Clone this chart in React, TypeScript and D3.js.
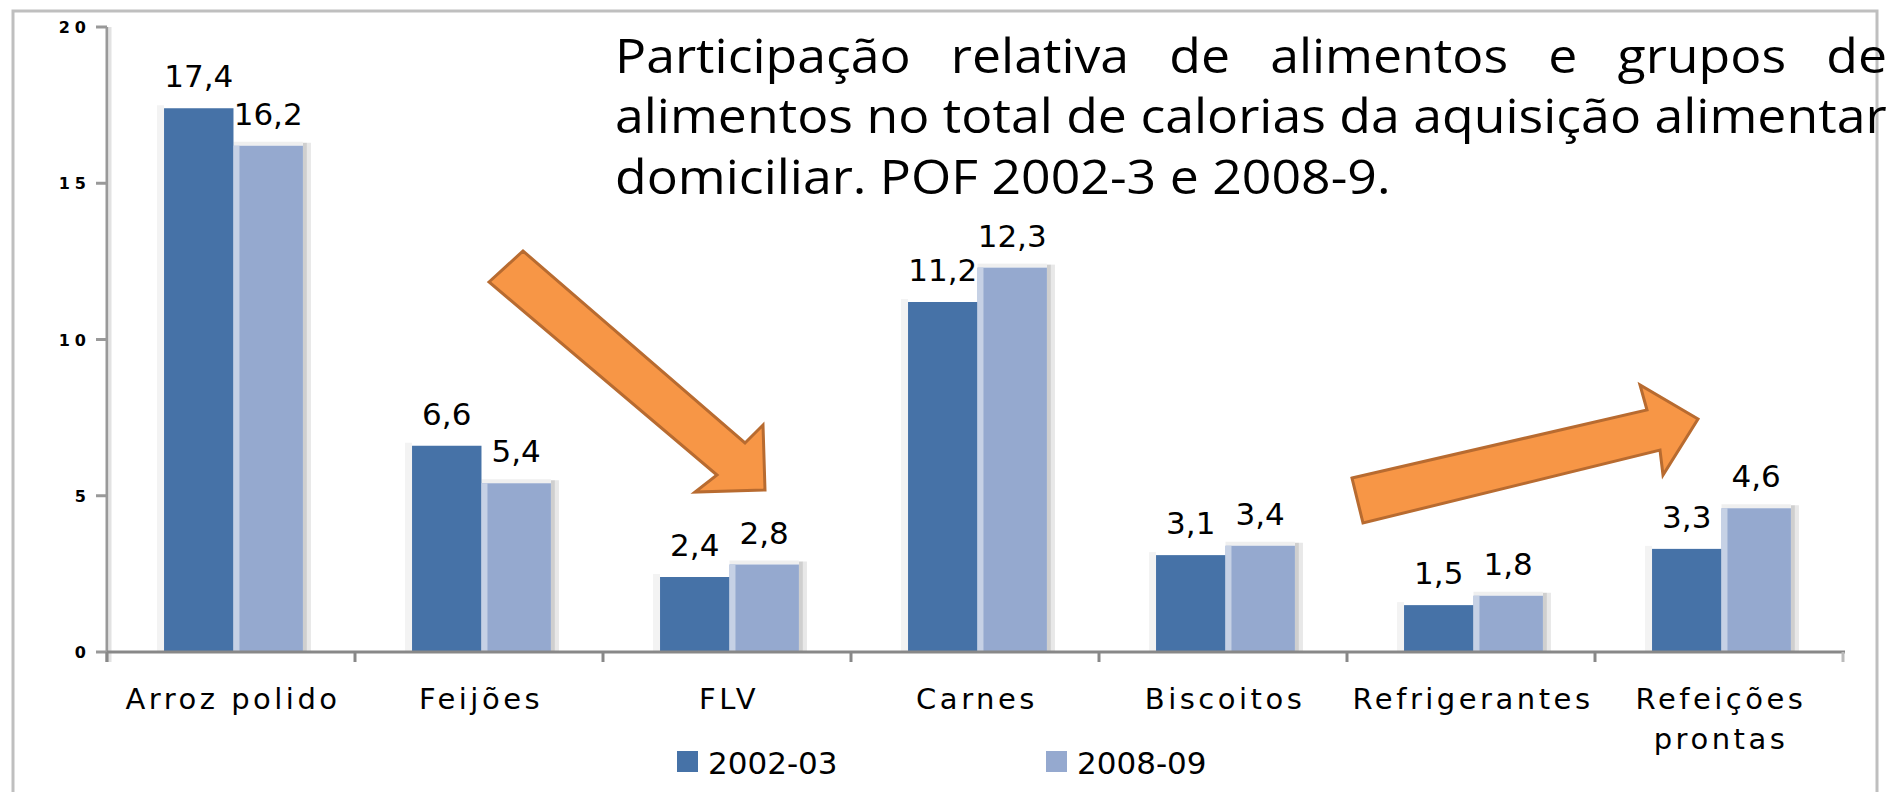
import React, { useEffect, useRef } from 'react';
import * as d3 from 'd3';

const categories = ['Arroz polido', 'Feijões', 'FLV', 'Carnes', 'Biscoitos', 'Refrigerantes', 'Refeições prontas'];
const categoryLines = [['Arroz polido'], ['Feijões'], ['FLV'], ['Carnes'], ['Biscoitos'], ['Refrigerantes'], ['Refeições', 'prontas']];
const series = ['2002-03', '2008-09'];
const values2002 = [17.4, 6.6, 2.4, 11.2, 3.1, 1.5, 3.3];
const values2008 = [16.2, 5.4, 2.8, 12.3, 3.4, 1.8, 4.6];
const yTicks = [0, 5, 10, 15, 20];
const titleLines = [
  'Participação relativa de alimentos e grupos de',
  'alimentos no total de calorias da aquisição alimentar',
  'domiciliar. POF 2002-3 e 2008-9.',
];
const seriesColors = ['#4672A7', '#95A9CF'];

const W = 1897;
const H = 792;

export default function App() {
  const ref = useRef<SVGSVGElement | null>(null);

  useEffect(() => {
    document.body.style.margin = '0';
    const svg = d3.select(ref.current);
    svg.selectAll('*').remove();

    const left = 107, right = 1843, bottom = 652, top = 27;
    const y = d3.scaleLinear().domain([0, 20]).range([bottom, top]);
    const x0 = d3.scaleBand<string>().domain(categories).range([left, right]).padding(0);
    const bw = x0.bandwidth();
    const x1 = d3.scaleBand<string>().domain(series).range([0.23 * bw, 0.79 * bw]).padding(0);
    const w = x1.bandwidth();
    const loc = d3.formatLocale({ decimal: ',', thousands: '.', grouping: [3], currency: ['R$', ''] });
    const fmt = loc.format('.1f');

    svg.append('rect').attr('width', W).attr('height', H).attr('fill', '#fff');
    // frame
    svg.append('rect').attr('x', 13).attr('y', 11).attr('width', 1864).attr('height', 820)
      .attr('fill', 'none').attr('stroke', '#BFBFBF').attr('stroke-width', 3);

    const data = categories.map((c, i) => ({ c, i, v: [values2002[i], values2008[i]] }));

    const g = svg.append('g');
    data.forEach((d) => {
      const gx = x0(d.c)!;
      const xa = gx + x1(series[0])!;
      const xb = gx + x1(series[1])!;
      // soft glow left of dark bar
      g.append('rect').attr('x', xa - 7).attr('y', y(d.v[0]) - 3).attr('width', 7).attr('height', bottom - y(d.v[0]) + 3).attr('fill', '#F3F3F3');
      // shadow right of light bar
      g.append('rect').attr('x', xb + w).attr('y', y(d.v[1]) - 3).attr('width', 4).attr('height', bottom - y(d.v[1]) + 3).attr('fill', '#CFCFCF');
      g.append('rect').attr('x', xb + w + 4).attr('y', y(d.v[1]) - 3).attr('width', 4).attr('height', bottom - y(d.v[1]) + 3).attr('fill', '#E8E8E8');
      g.append('rect').attr('x', xb).attr('y', y(d.v[1]) - 4).attr('width', w).attr('height', 4).attr('fill', '#EFEFEF');
      // bars
      g.append('rect').attr('x', xa).attr('y', y(d.v[0])).attr('width', w).attr('height', bottom - y(d.v[0])).attr('fill', seriesColors[0]);
      g.append('rect').attr('x', xb).attr('y', y(d.v[1])).attr('width', w).attr('height', bottom - y(d.v[1])).attr('fill', seriesColors[1]);
      g.append('rect').attr('x', xb).attr('y', y(d.v[1])).attr('width', 6).attr('height', bottom - y(d.v[1])).attr('fill', '#C6D1E5');
      // value labels
      [xa, xb].forEach((xx, k) => {
        g.append('text').attr('x', xx + w / 2).attr('y', y(d.v[k]) - 21)
          .attr('text-anchor', 'middle').attr('font-family', 'DejaVu Sans').attr('font-size', 31)
          .attr('fill', '#000').text(fmt(d.v[k]));
      });
      // category labels
      categoryLines[d.i].forEach((line, li) => {
        g.append('text').attr('x', gx + bw / 2 + 2).attr('y', 709 + li * 40)
          .attr('text-anchor', 'middle').attr('font-family', 'DejaVu Sans').attr('font-size', 29)
          .attr('letter-spacing', 3.5).attr('fill', '#000').text(line);
      });
    });

    // y axis
    svg.append('line').attr('x1', left).attr('x2', left).attr('y1', y(20)).attr('y2', bottom + 10)
      .attr('stroke', '#999').attr('stroke-width', 3);
    svg.append('line').attr('x1', left + 3).attr('x2', left + 3).attr('y1', y(20)).attr('y2', bottom + 10)
      .attr('stroke', '#E2E2E2').attr('stroke-width', 3);
    yTicks.forEach((t) => {
      svg.append('line').attr('x1', left - 11).attr('x2', left).attr('y1', y(t)).attr('y2', y(t))
        .attr('stroke', '#999').attr('stroke-width', 3);
      svg.append('text').attr('x', 91).attr('y', y(t) + 6).attr('text-anchor', 'end')
        .attr('font-family', 'DejaVu Sans').attr('font-weight', 'bold').attr('font-size', 16)
        .attr('letter-spacing', 5).attr('fill', '#000').text(String(t));
    });
    // x axis
    svg.append('line').attr('x1', left).attr('x2', right + 2).attr('y1', bottom).attr('y2', bottom)
      .attr('stroke', '#888').attr('stroke-width', 3);
    categories.concat(['__end']).forEach((c, i) => {
      const xx = i < categories.length ? x0(c)! : right;
      svg.append('line').attr('x1', xx).attr('x2', xx).attr('y1', bottom).attr('y2', bottom + 10)
        .attr('stroke', i === categories.length ? '#BBB' : '#888').attr('stroke-width', 3);
    });

    // arrows (annotations)
    const arrowDown: [number, number][] = [[489, 282], [523, 251], [745, 443], [763, 425], [765, 490], [695, 492], [717, 475]];
    const arrowUp: [number, number][] = [[1352, 478], [1647, 410], [1640, 385], [1698, 419], [1663, 475], [1660, 450], [1363, 523]];
    [arrowDown, arrowUp].forEach((pts) => {
      svg.append('path').attr('d', d3.line()(pts)! + 'Z').attr('fill', '#F79646')
        .attr('stroke', '#B86B30').attr('stroke-width', 3).attr('stroke-linejoin', 'miter');
    });

    // legend
    const legendX = [677, 1046];
    series.forEach((s, i) => {
      svg.append('rect').attr('x', legendX[i]).attr('y', 751).attr('width', 21).attr('height', 21).attr('fill', seriesColors[i]);
      svg.append('text').attr('x', legendX[i] + 31).attr('y', 774).attr('font-family', 'DejaVu Sans')
        .attr('font-size', 31).attr('fill', '#000').text(s);
    });

    // title
    const tx = 615, tRight = 1887;
    const tg = svg.append('g');
    const texts = titleLines.map((line, i) =>
      tg.append('text').attr('x', 0).attr('y', 73 + i * 60.5).attr('font-family', 'Open Sans')
        .attr('font-size', 48).attr('fill', '#000').text(line));
    const w2 = (texts[1].node() as SVGTextElement).getComputedTextLength();
    const sx = (tRight - tx) / w2;
    tg.attr('transform', `translate(${tx},0) scale(${sx},1)`);
    const w1 = (texts[0].node() as SVGTextElement).getComputedTextLength();
    const gaps = titleLines[0].split(' ').length - 1;
    texts[0].attr('word-spacing', ((tRight - tx) / sx - w1) / gaps);
  }, []);

  return <svg ref={ref} width={W} height={H} style={{ position: 'absolute', left: 0, top: 0, display: 'block' }} />;
}
